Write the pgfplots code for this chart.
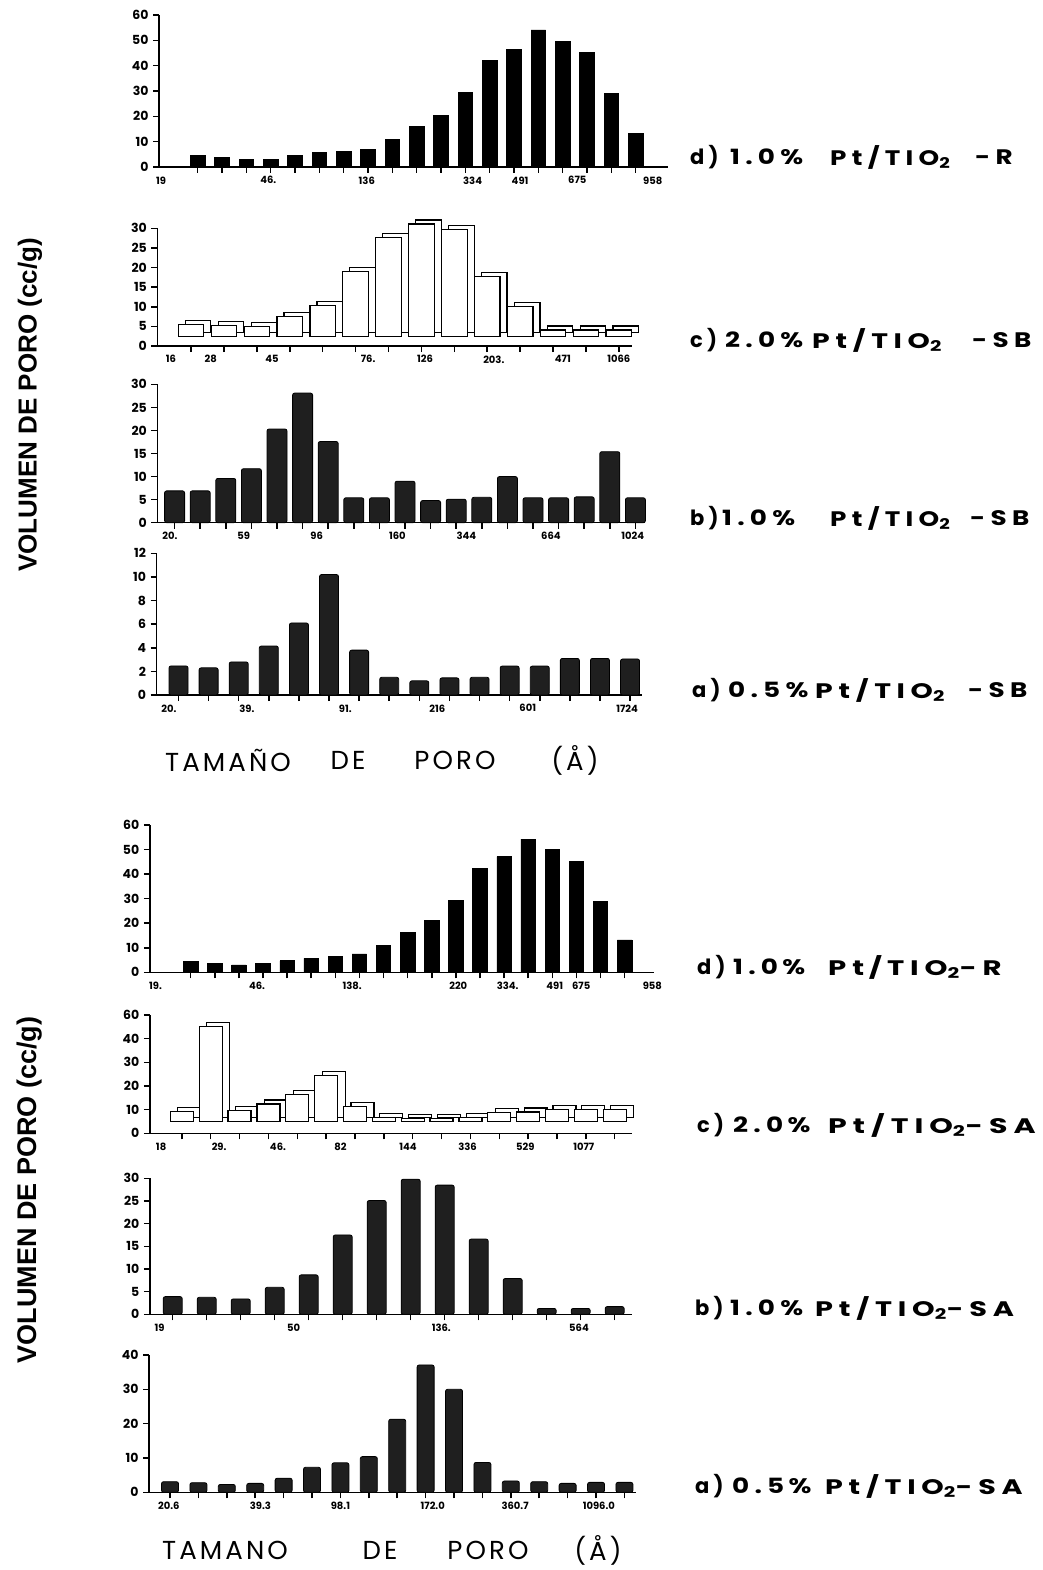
\documentclass[border=0pt]{standalone}
\usepackage{fontspec}
\setmainfont{Poppins}
\newfontfamily\condfont{Liberation Sans}
\usepackage{pgfplots}
\usepackage{pgfplotstable}
\pgfplotsset{compat=1.18}

% P1: d) 1.0% Pt/TiO2-R (top)
\pgfplotstableread{
i v
1 4.6
2 3.7
3 3.0
4 2.9
5 4.6
6 5.7
7 6.2
8 7.0
9 10.8
10 16.1
11 20.3
12 29.4
13 42.1
14 46.4
15 54.1
16 49.7
17 45.1
18 29.0
19 13.2
}\dataA
% P2: c) 2.0% Pt/TiO2-SB
\pgfplotstableread{
i v
1 5.4
2 5.2
3 4.9
4 7.6
5 10.3
6 18.9
7 27.7
8 31.1
9 29.7
10 17.7
11 10.0
12 4.1
13 4.1
14 4.1
}\dataB
% P3: b) 1.0% Pt/TiO2-SB
\pgfplotstableread{
i v
1 6.9
2 6.9
3 9.6
4 11.7
5 20.3
6 28.1
7 17.6
8 5.4
9 5.4
10 9.0
11 4.8
12 5.1
13 5.5
14 10.0
15 5.4
16 5.4
17 5.6
18 15.4
19 5.4
}\dataC
% P4: a) 0.5% Pt/TiO2-SB
\pgfplotstableread{
i v
1 2.46
2 2.3
3 2.8
4 4.15
5 6.1
6 10.2
7 3.8
8 1.5
9 1.2
10 1.45
11 1.5
12 2.45
13 2.45
14 3.1
15 3.1
16 3.05
}\dataD
% P5: d) 1.0% Pt/TiO2-R (bottom)
\pgfplotstableread{
i v
1 4.3
2 3.7
3 3.0
4 3.7
5 4.7
6 5.7
7 6.4
8 7.5
9 11.1
10 16.1
11 21.0
12 29.4
13 42.3
14 47.1
15 54.3
16 50.1
17 45.3
18 29.0
19 13.2
}\dataE
% P6: c) 2.0% Pt/TiO2-SA
\pgfplotstableread{
i v
1 9.2
2 45.1
3 9.6
4 12.4
5 16.5
6 24.6
7 11.3
8 6.8
9 6.3
10 6.2
11 6.6
12 8.7
13 9.0
14 9.9
15 9.9
16 9.9
}\dataF
% P7: b) 1.0% Pt/TiO2-SA
\pgfplotstableread{
i v
1 3.9
2 3.75
3 3.4
4 5.95
5 8.7
6 17.5
7 25.1
8 29.8
9 28.5
10 16.6
11 7.9
12 1.3
13 1.3
14 1.7
}\dataG
% P8: a) 0.5% Pt/TiO2-SA
\pgfplotstableread{
i v
1 3.1
2 2.8
3 2.3
4 2.6
5 4.1
6 7.3
7 8.6
8 10.4
9 21.3
10 37.1
11 30.0
12 8.7
13 3.3
14 3.1
15 2.6
16 2.9
17 2.9
}\dataH

\pgfplotsset{
  panel/.style={
    scale only axis, clip=false, anchor=south west,
    axis x line=bottom, axis y line=left,
    axis line style={-, line width=1.4pt},
    ymin=0, enlargelimits=false,
    tick align=outside,
    major tick length=6pt,
    every tick/.style={black, line width=1.5pt},
    xticklabels={},
    extra x tick style={every tick/.style={draw=none},
      tick label style={font=\fontsize{10}{10}\selectfont\bfseries, yshift=0pt}},
    yticklabel style={font=\fontsize{12.5}{12}\selectfont\bfseries, xshift=-1pt},
    /pgf/number format/assume math mode=true,
  },
  hidden/.style={scale only axis, clip=false, anchor=south west, hide axis, ymin=0, enlargelimits=false},
  blk/.style={fill=black, draw=black, line width=0.6pt},
  cyl/.style={fill=black!88, draw=black, line width=0.8pt, rounded corners=2pt},
  box/.style={fill=white, draw=black, line width=1.2pt},
}
\newcommand\lab[1]{\scalebox{1.25}[1]{#1}}
\newcommand\labs[2]{\scalebox{#1}[1]{#2}}

\begin{document}
\begin{tikzpicture}
\useasboundingbox (0pt,0pt) rectangle (1042pt,-1570pt);

% ---------- P1 ----------
\begin{axis}[panel, at={(159pt,-167pt)}, width=509pt, height=152pt,
  xmin=-0.59, xmax=20.33, ymax=60, ytick={0,10,...,60},
  xtick={1,...,19},
  extra x ticks={-0.5,3.9,7.95,12.3,14.25,16.6,19.7},
  extra x tick labels={19,46.,136,334,491,675,958},
  ybar, bar width=14.5pt]
\addplot[blk] table[x=i,y=v]{\dataA};
\end{axis}

% ---------- P2 (3D boxes) ----------
\begin{axis}[hidden, at={(164.4pt,-342pt)}, width=474.6pt, height=117.7pt,
  xmin=-0.024, xmax=14.40, ymax=30, ybar stacked, bar width=25.6pt]
\addplot[draw=none, fill=none] table[x=i, y expr=2.5]{\dataB};
\addplot[box] table[x=i, y expr=\thisrow{v}-2.5]{\dataB};
\end{axis}
\begin{axis}[panel, at={(157.4pt,-346pt)}, width=474.6pt, height=117.7pt,
  xmin=-0.024, xmax=14.40, ymax=30, ytick={0,5,...,30},
  xtick={1,...,14},
  extra x ticks={0.39,1.6,3.46,6.38,8.11,10.2,12.3,14.0},
  extra x tick labels={16,28,45,76.,126,203.,471,1066},
  ybar stacked, bar width=25.6pt]
\addplot[draw=none, fill=none] table[x=i, y expr=2.5]{\dataB};
\addplot[box] table[x=i, y expr=\thisrow{v}-2.5]{\dataB};
\end{axis}

% ---------- P3 ----------
\begin{axis}[panel, at={(157.4pt,-522.7pt)}, width=487.6pt, height=138.4pt,
  xmin=0.328, xmax=19.375, ymax=30, ytick={0,5,...,30},
  xtick={1,...,19},
  extra x ticks={0.82,3.7,6.55,9.7,12.4,15.7,18.9},
  extra x tick labels={20.,59,96,160,344,664,1024},
  ybar, bar width=20pt]
\addplot[cyl] table[x=i,y=v]{\dataC};
\end{axis}

% ---------- P4 ----------
\begin{axis}[panel, at={(156.6pt,-695pt)}, width=484.9pt, height=141.7pt,
  xmin=0.272, xmax=16.38, ymax=12, ytick={0,2,...,12},
  xtick={1,...,16},
  extra x ticks={0.68,3.27,6.54,9.6,12.6,15.9},
  extra x tick labels={20.,39.,91.,216,601,1724},
  ybar, bar width=19pt]
\addplot[cyl] table[x=i,y=v]{\dataD};
\end{axis}

% ---------- P5 ----------
\begin{axis}[panel, at={(149.8pt,-972.3pt)}, width=504.2pt, height=147.3pt,
  xmin=-0.697, xmax=20.22, ymax=60, ytick={0,10,...,60},
  xtick={1,...,19},
  extra x ticks={-0.46,3.75,7.7,12.1,14.15,16.1,17.2,20.15},
  extra x tick labels={19.,46.,138.,220,334.,491,675,958},
  ybar, bar width=14.5pt]
\addplot[blk] table[x=i,y=v]{\dataE};
\end{axis}

% ---------- P6 (3D boxes) ----------
\begin{axis}[hidden, at={(157.3pt,-1129.3pt)}, width=482.2pt, height=118.3pt,
  xmin=-0.112, xmax=16.6, ymax=50, ybar stacked, bar width=23pt]
\addplot[draw=none, fill=none] table[x=i, y expr=5]{\dataF};
\addplot[box] table[x=i, y expr=\thisrow{v}-5]{\dataF};
\end{axis}
\begin{axis}[panel, at={(149.8pt,-1133.3pt)}, width=482.2pt, height=118.3pt,
  xmin=-0.112, xmax=16.6, ymax=50, ytick={0,10,...,50},
  yticklabels={0,10,20,30,40,60},
  xtick={1,...,16},
  extra x ticks={0.28,2.29,4.33,6.5,8.84,10.9,12.9,14.93},
  extra x tick labels={18,29.,46.,82,144,336,529,1077},
  ybar stacked, bar width=23pt]
\addplot[draw=none, fill=none] table[x=i, y expr=5]{\dataF};
\addplot[box] table[x=i, y expr=\thisrow{v}-5]{\dataF};
\end{axis}

% ---------- P7 ----------
\begin{axis}[panel, at={(149.8pt,-1314.3pt)}, width=482.2pt, height=136pt,
  xmin=0.326, xmax=14.51, ymax=30, ytick={0,5,...,30},
  xtick={1,...,14},
  extra x ticks={0.61,4.56,8.9,12.95},
  extra x tick labels={19,50,136.,564},
  ybar, bar width=19pt]
\addplot[cyl] table[x=i,y=v]{\dataG};
\end{axis}

% ---------- P8 ----------
\begin{axis}[panel, at={(149pt,-1492.3pt)}, width=486.8pt, height=137.3pt,
  xmin=0.26, xmax=17.4, ymax=40, ytick={0,10,...,40},
  xtick={1,...,17},
  extra x ticks={0.96,4.18,7.0,10.25,13.15,16.1},
  extra x tick labels={20.6,39.3,98.1,172.0,360.7,1096.0},
  ybar, bar width=17pt]
\addplot[cyl] table[x=i,y=v]{\dataH};
\end{axis}

% ---------- panel labels ----------
\begin{scope}[every node/.style={anchor=west, inner sep=0pt, font=\fontsize{21}{21}\selectfont\bfseries\addfontfeatures{LetterSpace=20}}]
% top group
\node at (690pt,-157pt) {d)};
\node at (730pt,-157pt) {\lab{1.0\%}};
\node at (830pt,-157pt) {\lab{Pt/TIO\textsubscript{2}}};
\node at (975pt,-157pt) {\lab{-R}};
\node at (690pt,-340pt) {c)};
\node at (725pt,-340pt) {\lab{2.0\%}};
\node at (812pt,-340pt) {\labs{1.35}{Pt/TIO\textsubscript{2}}};
\node at (972pt,-340pt) {\lab{-SB}};
\node at (690pt,-518pt) {b)};
\node at (722pt,-518pt) {\lab{1.0\%}};
\node at (830pt,-518pt) {\lab{Pt/TIO\textsubscript{2}}};
\node at (970pt,-518pt) {\lab{-SB}};
\node at (692pt,-690pt) {a)};
\node at (728pt,-690pt) {\lab{0.5\%}};
\node at (815pt,-690pt) {\labs{1.35}{Pt/TIO\textsubscript{2}}};
\node at (968pt,-690pt) {\lab{-SB}};
% bottom group
\node at (697pt,-967pt) {d)};
\node at (733pt,-967pt) {\lab{1.0\,\%}};
\node at (828pt,-967pt) {\labs{1.39}{Pt\,/\,TIO\textsubscript{2}-R}};
\node at (697pt,-1125pt) {c)};
\node at (733pt,-1125pt) {\lab{2.0\,\%}};
\node at (828pt,-1125pt) {\labs{1.43}{Pt/TIO\textsubscript{2}-SA}};
\node at (695pt,-1308pt) {b)};
\node at (730pt,-1308pt) {\lab{1.0\%}};
\node at (815pt,-1308pt) {\labs{1.37}{Pt/TIO\textsubscript{2}-SA}};
\node at (695pt,-1486pt) {a)};
\node at (732pt,-1486pt) {\lab{0.5\,\%}};
\node at (825pt,-1486pt) {\labs{1.36}{Pt/TIO\textsubscript{2}-SA}};
\end{scope}

% ---------- axis titles ----------
\node[rotate=90, inner sep=0pt, font=\condfont\fontsize{26}{26}\selectfont\bfseries] at (30pt,-405pt) {VOLUMEN DE PORO (cc/g)};
\node[rotate=90, inner sep=0pt, font=\condfont\fontsize{27}{27}\selectfont\bfseries] at (30pt,-1190pt) {VOLUMEN DE PORO (cc/g)};

\begin{scope}[every node/.style={inner sep=0pt, font=\fontsize{26}{26}\selectfont\addfontfeatures{LetterSpace=12}}]
\node at (228pt,-760pt) {TAMAÑO};
\node at (348pt,-760pt) {DE};
\node at (455pt,-760pt) {PORO};
\node at (575pt,-760pt) {(Å)};
\node at (225pt,-1550pt) {TAMANO};
\node at (380pt,-1550pt) {DE};
\node at (488pt,-1550pt) {PORO};
\node at (598pt,-1550pt) {(Å)};
\end{scope}
\end{tikzpicture}
\end{document}
